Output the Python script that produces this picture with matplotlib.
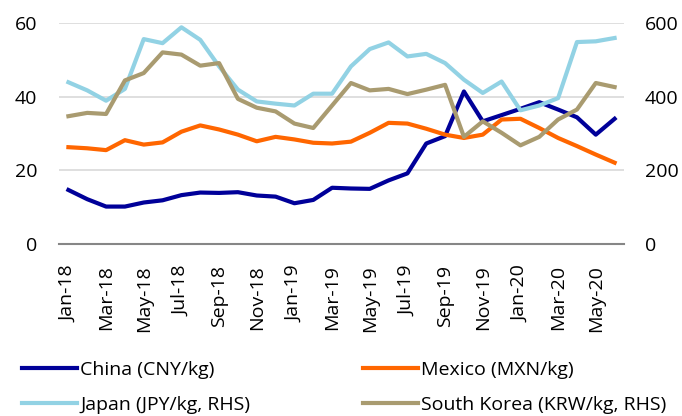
import matplotlib
matplotlib.use("Agg")
import matplotlib.pyplot as plt
import pandas as pd

plt.rcParams['font.family'] = ['Open Sans', 'DejaVu Sans']

months = pd.date_range("2018-01-01", periods=30, freq="MS").strftime("%b-%y").tolist()

china = [14.7, 12.2, 10.2, 10.2, 11.3, 11.9, 13.3, 14.0, 13.9, 14.1, 13.2, 12.9, 11.1, 12.0, 15.3,
         15.1, 15.0, 17.3, 19.2, 27.3, 29.3, 41.4, 33.3, 35.0, 36.7, 38.5, 36.5, 34.4, 29.7, 34.0]
mexico = [26.3, 26.0, 25.5, 28.2, 27.0, 27.6, 30.5, 32.2, 31.1, 29.7, 27.9, 29.1, 28.4, 27.5, 27.3,
          27.8, 30.2, 32.9, 32.7, 31.3, 29.7, 28.8, 29.7, 33.8, 34.0, 31.5, 28.8, 26.6, 24.3, 22.1]
japan = [439, 417, 389, 421, 556, 545, 588, 554, 482, 419, 387, 381, 376, 408, 408,
         482, 529, 547, 509, 516, 491, 446, 410, 441, 363, 376, 396, 548, 550, 559]
korea = [347, 356, 353, 444, 464, 520, 514, 484, 491, 394, 370, 360, 327, 315, 376,
         437, 417, 421, 407, 419, 432, 291, 333, 302, 268, 291, 338, 365, 437, 426]

labels = ["China (CNY/kg)", "Mexico (MXN/kg)", "Japan (JPY/kg, RHS)", "South Korea (KRW/kg, RHS)"]
colors = ["#000099", "#FF6600", "#92D2E4", "#A99B70"]

FS = 14

fig = plt.figure(figsize=(6.82, 4.16), dpi=100)
ax = fig.add_axes([0.0865, 0.413, 0.8285, 0.532])
ax2 = ax.twinx()

x = list(range(len(months)))
lw = 3.0
l1, = ax.plot(x, china, color=colors[0], lw=lw, label=labels[0])
l2, = ax.plot(x, mexico, color=colors[1], lw=lw, label=labels[1])
l3, = ax2.plot(x, japan, color=colors[2], lw=lw, label=labels[2])
l4, = ax2.plot(x, korea, color=colors[3], lw=lw, label=labels[3])

ax.set_xlim(-0.5, len(months) - 0.5)
ax.set_ylim(0, 60)
ax2.set_ylim(0, 600)
ax.set_yticks([0, 20, 40, 60])
ax2.set_yticks([0, 200, 400, 600])
ax.set_xticks(x[::2])
ax.set_xticklabels(months[::2], rotation=90)

ax.grid(axis='y', color='#D9D9D9', lw=1.2)
ax.set_axisbelow(True)
for a in (ax, ax2):
    for s in a.spines.values():
        s.set_visible(False)
    a.tick_params(length=0, labelsize=FS, colors='#000000')
ax.spines['bottom'].set_visible(True)
ax.spines['bottom'].set_color('#868686')
ax.spines['bottom'].set_linewidth(1.5)
ax.tick_params(axis='y', pad=15.5)
ax2.tick_params(axis='y', pad=15)
ax.tick_params(axis='x', pad=15)

common = dict(loc='upper left', frameon=False, fontsize=FS, handlelength=2.85,
              handletextpad=0.15, labelspacing=0.86, borderpad=0, borderaxespad=0)
leg1 = fig.legend(handles=[l1, l3], bbox_to_anchor=(22 / 682, 1 - 361 / 416), **common)
leg2 = fig.legend(handles=[l2, l4], bbox_to_anchor=(363 / 682, 1 - 361 / 416), **common)

fig.savefig("out.png", dpi=100)
